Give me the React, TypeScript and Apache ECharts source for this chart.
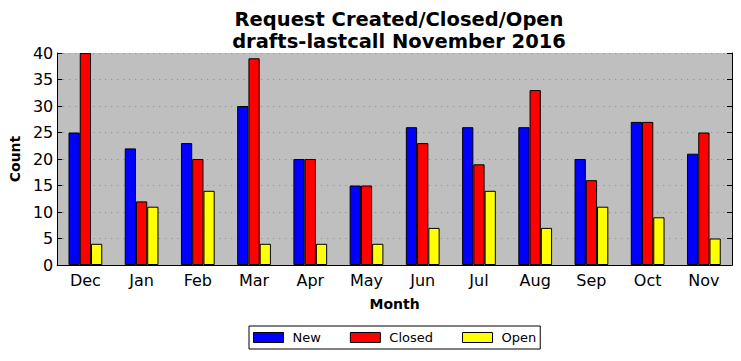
import React, { useEffect, useRef } from "react";
import * as echarts from "echarts";

const categories = ["Dec", "Jan", "Feb", "Mar", "Apr", "May", "Jun", "Jul", "Aug", "Sep", "Oct", "Nov"];
const newValues = [25, 22, 23, 30, 20, 15, 26, 26, 26, 20, 27, 21];
const closedValues = [40, 12, 20, 39, 20, 15, 23, 19, 33, 16, 27, 25];
const openValues = [4, 11, 14, 4, 4, 4, 7, 14, 7, 11, 9, 5];
const yTicks = { min: 0, max: 40, interval: 5 };

const FONT = "DejaVu Sans";

export default function App() {
  const ref = useRef<HTMLDivElement>(null);
  useEffect(() => {
    const chart = echarts.init(ref.current!, null, { renderer: "svg" });
    const barStyle = (color: string) => ({
      color,
      borderColor: "#000",
      borderWidth: 1,
    });
    chart.setOption({
      animation: false,
      textStyle: { fontFamily: FONT },
      title: {
        text: "Request Created/Closed/Open\ndrafts-lastcall November 2016",
        left: 394,
        textAlign: "center",
        top: 3,
        textStyle: { fontFamily: FONT, fontSize: 19.5, fontWeight: "bold", color: "#000", lineHeight: 22 },
      },
      legend: {
        top: 326,
        left: 249,
        data: ["New", "Closed", "Open"],
        itemWidth: 30,
        itemHeight: 10,
        itemGap: 29,
        borderColor: "#000",
        borderWidth: 1,
        borderRadius: 0,
        padding: [5, 4, 5, 4],
        icon: "rect",
        itemStyle: { borderColor: "#000", borderWidth: 1 },
        textStyle: { fontFamily: FONT, fontSize: 13, color: "#000", padding: [0, 0, 0, 4] },
      },
      grid: { left: 57, right: 9, top: 53, bottom: 96, backgroundColor: "#bfbfbf", show: true, borderWidth: 0 },
      xAxis: [
        {
          type: "category",
          data: categories,
          position: "bottom",
          name: "Month",
          nameLocation: "middle",
          nameGap: 32,
          nameTextStyle: { fontFamily: FONT, fontSize: 14, fontWeight: "bold", color: "#000" },
          axisLine: { lineStyle: { color: "#000", width: 1 } },
          axisTick: { inside: true, alignWithLabel: true, length: 5, lineStyle: { color: "#000" } },
          axisLabel: { fontFamily: FONT, fontSize: 16, color: "#000", margin: 7 },
        },
        {
          type: "category",
          data: categories,
          position: "top",
          axisLine: { lineStyle: { color: "#000", width: 1 } },
          axisTick: { inside: true, alignWithLabel: true, length: 5, lineStyle: { color: "#000" } },
          axisLabel: { show: false },
        },
      ],
      yAxis: [
        {
          type: "value",
          min: yTicks.min,
          max: yTicks.max,
          interval: yTicks.interval,
          position: "left",
          name: "Count",
          nameLocation: "middle",
          nameGap: 35,
          nameTextStyle: { fontFamily: FONT, fontSize: 14, fontWeight: "bold", color: "#000" },
          axisLine: { show: true, lineStyle: { color: "#000", width: 1 } },
          axisTick: { show: true, inside: true, length: 5, lineStyle: { color: "#000" } },
          axisLabel: { fontFamily: FONT, fontSize: 16, color: "#000", margin: 4 },
          splitLine: { show: true, lineStyle: { color: "#8a8a8a", type: [1, 5], width: 1 } },
        },
        {
          type: "value",
          min: yTicks.min,
          max: yTicks.max,
          interval: yTicks.interval,
          position: "right",
          axisLine: { show: true, lineStyle: { color: "#000", width: 1 } },
          axisTick: { show: true, inside: true, length: 5, lineStyle: { color: "#000" } },
          axisLabel: { show: false },
          splitLine: { show: false },
        },
      ],
      series: [
        { name: "New", type: "bar", data: newValues, itemStyle: barStyle("#0000ff"), barGap: "0%", barCategoryGap: "40%" },
        { name: "Closed", type: "bar", data: closedValues, itemStyle: barStyle("#ff0000"), barGap: "0%", barCategoryGap: "40%" },
        { name: "Open", type: "bar", data: openValues, itemStyle: barStyle("#ffff00"), barGap: "0%", barCategoryGap: "40%" },
      ],
    });
    return () => chart.dispose();
  }, []);
  return <div ref={ref} style={{ width: 741, height: 361, position: "absolute", left: 0, top: 0 }} />;
}
